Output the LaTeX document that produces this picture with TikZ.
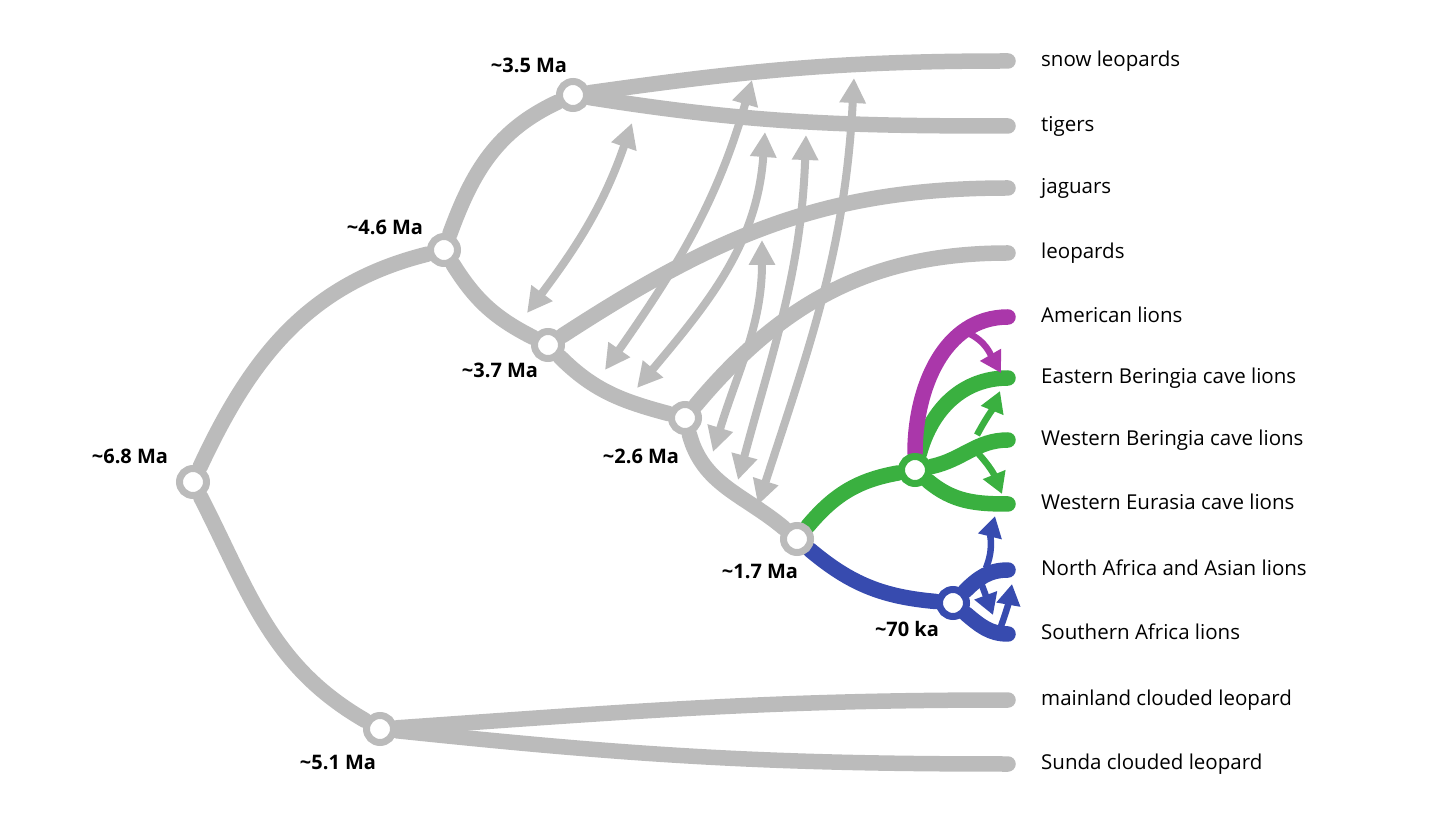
\documentclass[tikz,border=0pt]{standalone}
\usepackage{fontspec}
\setmainfont{Open Sans}
\usepackage{xcolor}
\usepackage{tikz}
\usetikzlibrary{arrows.meta,positioning,backgrounds}

\definecolor{branchgray}{RGB}{187,187,187}
\definecolor{cavegreen}{RGB}{58,176,64}
\definecolor{amerpurple}{RGB}{170,55,170}
\definecolor{lionblue}{RGB}{55,75,175}

\tikzset{
  branch/.style={line width=15.5pt, line cap=round, draw=branchgray},
  split/.style={circle, draw=branchgray, line width=7pt, fill=white, minimum size=27pt, inner sep=0pt},
  flow/.style={line width=8pt, color=branchgray, {Triangle[length=25pt,width=25pt]}-{Triangle[length=25pt,width=25pt]}},
  smallflow/.style={line width=6.5pt, -{Triangle[length=21pt,width=23pt]}},
  age/.style={font=\fontsize{20}{22}\selectfont\bfseries, inner sep=0pt, text height=14pt, text depth=0pt},
  taxon/.style={font=\fontsize{20.5}{23}\selectfont, inner sep=0pt, text height=11.5pt, text depth=0pt},
}

\begin{document}
\begin{tikzpicture}[x=1pt, y=1pt]
\useasboundingbox (0,0) rectangle (1456,825);

% split points
\node[split] (n68) at (193,343) {};
\node[split] (n46) at (444,575) {};
\node[split] (n35) at (573,730) {};
\node[split] (n37) at (548,480) {};
\node[split] (n26) at (685,407) {};
\node[split] (n17) at (797,286) {};
\node[split, draw=cavegreen] (ncave) at (915,355) {};
\node[split, draw=lionblue] (n70) at (953,222) {};
\node[split] (n51) at (380,96) {};

% ages
\node[age] (a68) at (130,368) {\textasciitilde6.8 Ma};
\node[age] (a46) at (385,597) {\textasciitilde4.6 Ma};
\node[age] (a35) at (529,759) {\textasciitilde3.5 Ma};
\node[age] (a37) at (500,454) {\textasciitilde3.7 Ma};
\node[age] (a26) at (641,368) {\textasciitilde2.6 Ma};
\node[age] (a17) at (760,253) {\textasciitilde1.7 Ma};
\node[age] (a70) at (907,196) {\textasciitilde70 ka};
\node[age] (a51) at (338,63) {\textasciitilde5.1 Ma};

% branch tips and taxa
\coordinate (snowE) at (1008,764);
\coordinate (tigerE) at (1008,699);
\coordinate (jagE) at (1008,637);
\coordinate (leoE) at (1008,572);
\coordinate (amerE) at (1008,508);
\coordinate (eberE) at (1008,447);
\coordinate (wberE) at (1008,385);
\coordinate (weurE) at (1008,321);
\coordinate (nafrE) at (1008,255);
\coordinate (safrE) at (1008,191);
\coordinate (mainE) at (1008,125);
\coordinate (sundaE) at (1008,61);

\node[taxon, right=33pt of snowE] (snow) {snow leopards};
\node[taxon, right=33pt of tigerE] (tiger) {tigers};
\node[taxon, right=33pt of jagE] (jag) {jaguars};
\node[taxon, right=33pt of leoE] (leo) {leopards};
\node[taxon, right=33pt of amerE] (amer) {American lions};
\node[taxon, right=33pt of eberE] (eber) {Eastern Beringia cave lions};
\node[taxon, right=33pt of wberE] (wber) {Western Beringia cave lions};
\node[taxon, right=33pt of weurE] (weur) {Western Eurasia cave lions};
\node[taxon, right=33pt of nafrE] (nafr) {North Africa and Asian lions};
\node[taxon, right=33pt of safrE] (safr) {Southern Africa lions};
\node[taxon, right=33pt of mainE] (main) {mainland clouded leopard};
\node[taxon, right=33pt of sundaE] (sunda) {Sunda clouded leopard};

% ends of the gene flow arrows
\coordinate (f1a) at (527,512);  \coordinate (f1b) at (632,702);
\coordinate (f2a) at (605,455);  \coordinate (f2b) at (752,745);
\coordinate (f3a) at (637,437);  \coordinate (f3b) at (765,693);
\coordinate (f4a) at (713,373);  \coordinate (f4b) at (762,585);
\coordinate (f5a) at (738,345);  \coordinate (f5b) at (806,690);
\coordinate (f6a) at (758,320);  \coordinate (f6b) at (854,747);
\coordinate (p1a) at (968,492);  \coordinate (p1b) at (1001,452);
\coordinate (g1a) at (977,390);  \coordinate (g1b) at (1000,434);
\coordinate (g2a) at (972,378);  \coordinate (g2b) at (1002,331);
\coordinate (b1a) at (986,257);  \coordinate (b1b) at (995,309);
\coordinate (b2a) at (980,245);  \coordinate (b2b) at (993,210);
\coordinate (b3a) at (1000,196); \coordinate (b3b) at (1012,241);

\begin{scope}[on background layer]
% tree
\draw[branch] (n68) to[out=65,in=194] (n46);
\draw[branch] (n68) to[out=-63,in=150] (n51);
\draw[branch] (n46) to[out=70,in=205] (n35);
\draw[branch] (n46) to[out=-58,in=153] (n37);
\draw[branch] (n37) to[out=-45,in=165] (n26);
\draw[branch] (n26) to[out=-75,in=140] (n17);
\draw[branch] (n35) to[out=8,in=180] (snowE);
\draw[branch] (n35) to[out=-9,in=180] (tigerE);
\draw[branch] (n37) to[out=33,in=180] (jagE);
\draw[branch] (n26) to[out=50,in=180] (leoE);
\draw[branch] (n51) to[out=4,in=180] (mainE);
\draw[branch] (n51) to[out=-6,in=180] (sundaE);
\draw[branch, draw=cavegreen] (n17) to[out=50,in=190] (ncave);
\draw[branch, draw=lionblue] (n17) to[out=-40,in=175] (n70);
\draw[branch, draw=cavegreen] (ncave) to[out=75,in=180] (eberE);
\draw[branch, draw=cavegreen] (ncave) to[out=12,in=180] (wberE);
\draw[branch, draw=cavegreen] (ncave) to[out=-40,in=180] (weurE);
\draw[branch, draw=amerpurple] (ncave) to[out=90,in=180] (amerE);
\draw[branch, draw=lionblue] (n70) to[out=45,in=180] (nafrE);
\draw[branch, draw=lionblue] (n70) to[out=-40,in=180] (safrE);

% gene flow
\draw[flow] (f1a) to[out=53,in=-109] (f1b);
\draw[flow] (f2a) to[out=55,in=-106] (f2b);
\draw[flow] (f3a) to[out=50,in=-94] (f3b);
\draw[flow] (f4a) to[out=73,in=-90] (f4b);
\draw[flow] (f5a) to[out=75,in=-92] (f5b);
\draw[flow] (f6a) to[out=72,in=-93] (f6b);
\draw[smallflow, color=amerpurple] (p1a) to[out=-25,in=120] (p1b);
\draw[smallflow, color=cavegreen] (g1a) to[out=62,in=-112] (g1b);
\draw[smallflow, color=cavegreen] (g2a) to[out=-45,in=112] (g2b);
\draw[smallflow, color=lionblue] (b1a) to[out=68,in=-104] (b1b);
\draw[smallflow, color=lionblue] (b2a) -- (b2b);
\draw[smallflow, color=lionblue] (b3a) to[out=70,in=-100] (b3b);
\end{scope}
\end{tikzpicture}
\end{document}
